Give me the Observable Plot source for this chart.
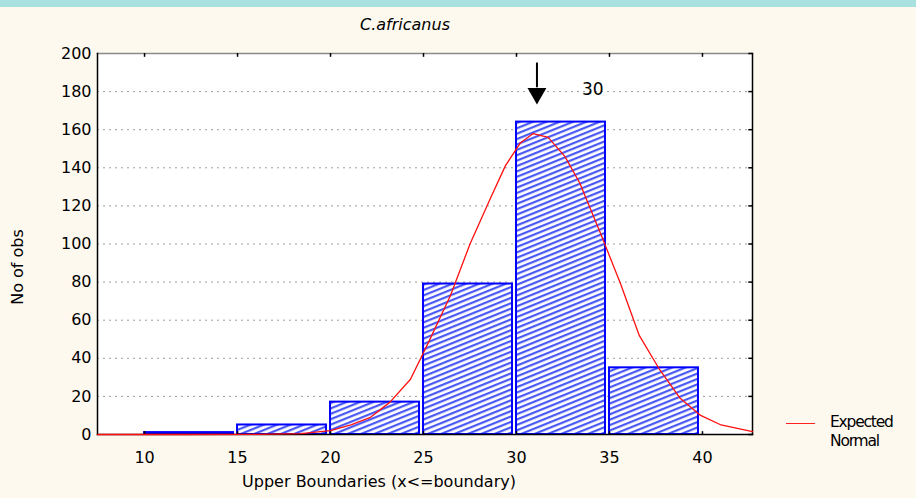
<!DOCTYPE html>
<html><head><meta charset="utf-8">
<script src="https://cdn.jsdelivr.net/npm/d3@7"></script>
<script src="https://cdn.jsdelivr.net/npm/@observablehq/plot@0.6"></script>
<style>
html,body{margin:0;padding:0;}
body{background:#fef9ef;width:916px;height:498px;overflow:hidden;position:relative;font-family:"DejaVu Sans",sans-serif;}
#band{height:7px;background:#a9e1e1;}
#legend{position:absolute;left:786px;top:413px;font-size:15.5px;letter-spacing:-1.2px;line-height:19px;color:#000;}
#legend .ln{position:absolute;left:0;top:10px;width:29px;height:0;border-top:1.3px solid #ff2020;}
#legend .tx{position:absolute;left:44px;top:0;white-space:nowrap;}
</style></head><body>
<div id="band"></div>
<div id="chart"></div>
<div id="legend"><div class="ln"></div><div class="tx">Expected<br>Normal</div></div>
<script>
// ---- data ----
const lowerBounds = [10, 15, 20, 25, 30, 35];
const upperBounds = [15, 20, 25, 30, 35, 40];
const counts = [1, 5, 17, 79, 164, 35];
const curveX = [7.47, 12, 16, 18.4, 20, 21.1, 22.15, 23.2, 24.3, 25.3, 26.45, 27.5, 28.6, 29.4, 30.2, 30.9, 31.7, 32.6, 33.4, 34.5, 35.6, 36.6, 37.7, 38.8, 39.9, 41.0, 42.69];
const curveY = [0, 0, 0.1, 0.5, 2, 5, 9, 17, 29, 49, 73, 100, 124, 141, 153, 158, 156, 146, 132, 106, 79, 52, 34, 19, 10, 5, 1.5];
const xTicks = [10, 15, 20, 25, 30, 35, 40];
const yTicks = [0, 20, 40, 60, 80, 100, 120, 140, 160, 180, 200];
const xDomain = [7.47, 42.69];
const yDomain = [0, 200];
const markerX = 31.1, markerTop = 195, markerTip = 179;
const markerLabel = "30", markerLabelX = 34.1, markerLabelY = 181;
const title = "C.africanus";
const xLabel = "Upper Boundaries (x<=boundary)";
const yLabel = "No of obs";

const bars = counts.map((c, i) => ({x1: lowerBounds[i], x2: upperBounds[i], y: c}));
const curve = curveX.map((x, i) => ({x, y: curveY[i]}));

const fontStyle = {fontFamily: "DejaVu Sans", letterSpacing: "-1.5px"};

const chart = Plot.plot({
  width: 916,
  height: 491,
  marginLeft: 97,
  marginRight: 164,
  marginTop: 46,
  marginBottom: 64,
  x: {domain: xDomain},
  y: {domain: yDomain},
  style: {background: "transparent", fontFamily: "DejaVu Sans", fontSize: "16px", color: "#000", overflow: "visible"},
  marks: [
    Plot.frame({fill: "white", stroke: "none"}),
    Plot.gridY(yTicks.filter(d => d > 0 && d < 200), {stroke: "#9a9a9a", strokeOpacity: 1, strokeDasharray: "2,4"}),
    Plot.rectY(bars, {x1: "x1", x2: "x2", y: "y", insetRight: 4, fill: "url(#hatch)", stroke: "#0000ff", strokeWidth: 2}),
    Plot.frame({anchor: "top", stroke: "#8a8a8a", strokeWidth: 1.5}),
    Plot.frame({anchor: "left", stroke: "#000", strokeWidth: 1.5}),
    Plot.frame({anchor: "right", stroke: "#000", strokeWidth: 1.5}),
    Plot.frame({anchor: "bottom", stroke: "#000", strokeWidth: 1.5}),
    Plot.ruleX(xTicks, {x: d => d, y1: 200, y2: 198, stroke: "#000", strokeWidth: 1.5}),
    Plot.ruleX(xTicks, {x: d => d, y1: 0, y2: 1.5, stroke: "#000", strokeWidth: 1.5}),
    Plot.ruleY(yTicks, {y: d => d, x1: xDomain[1] - 0.2, x2: xDomain[1], stroke: "#000", strokeWidth: 1.5}),
    Plot.line(curve, {x: "x", y: "y", stroke: "#ff1010", strokeWidth: 1.3}),
    Plot.axisX({ticks: xTicks, tickSize: 0, tickPadding: 17, tickFormat: d => String(d), label: null, fontSize: 16, ...fontStyle}),
    Plot.axisY({ticks: yTicks, tickSize: 0, tickPadding: 6, tickFormat: d => String(d), label: null, fontSize: 16, ...fontStyle}),
    Plot.ruleX([markerX], {x: d => d, y1: markerTop, y2: markerTip + 3, stroke: "#000", strokeWidth: 2}),
    Plot.dot([markerX], {x: d => d, y: markerTip, symbol: "triangle", rotate: 180, r: 7, fill: "#000", stroke: "none"}),
    Plot.text([markerLabel], {x: markerLabelX, y: markerLabelY, text: d => d, fontSize: 17, ...fontStyle}),
    Plot.text([title], {frameAnchor: "top", lineAnchor: "middle", textAnchor: "middle", dx: -20, dy: -29, text: d => d, fontSize: 16, fontStyle: "italic", ...fontStyle}),
    Plot.text([xLabel], {frameAnchor: "bottom", lineAnchor: "middle", textAnchor: "middle", dx: -46, dy: 47, text: d => d, fontSize: 16, ...fontStyle}),
    Plot.text([yLabel], {frameAnchor: "left", lineAnchor: "middle", textAnchor: "middle", dx: -80, dy: 23, rotate: -90, text: d => d, fontSize: 16, ...fontStyle})
  ]
});

// hatch pattern for the bars
const defs = d3.select(chart).insert("defs", ":first-child");
const pat = defs.append("pattern")
  .attr("id", "hatch")
  .attr("patternUnits", "userSpaceOnUse")
  .attr("width", 12).attr("height", 5)
  .attr("patternTransform", "rotate(-22)");
pat.append("rect").attr("width", 12).attr("height", 5).attr("fill", "#ffffff");
pat.append("rect").attr("width", 12).attr("height", 2.2).attr("fill", "#4a58f4");

document.getElementById("chart").appendChild(chart);
</script>
</body></html>
